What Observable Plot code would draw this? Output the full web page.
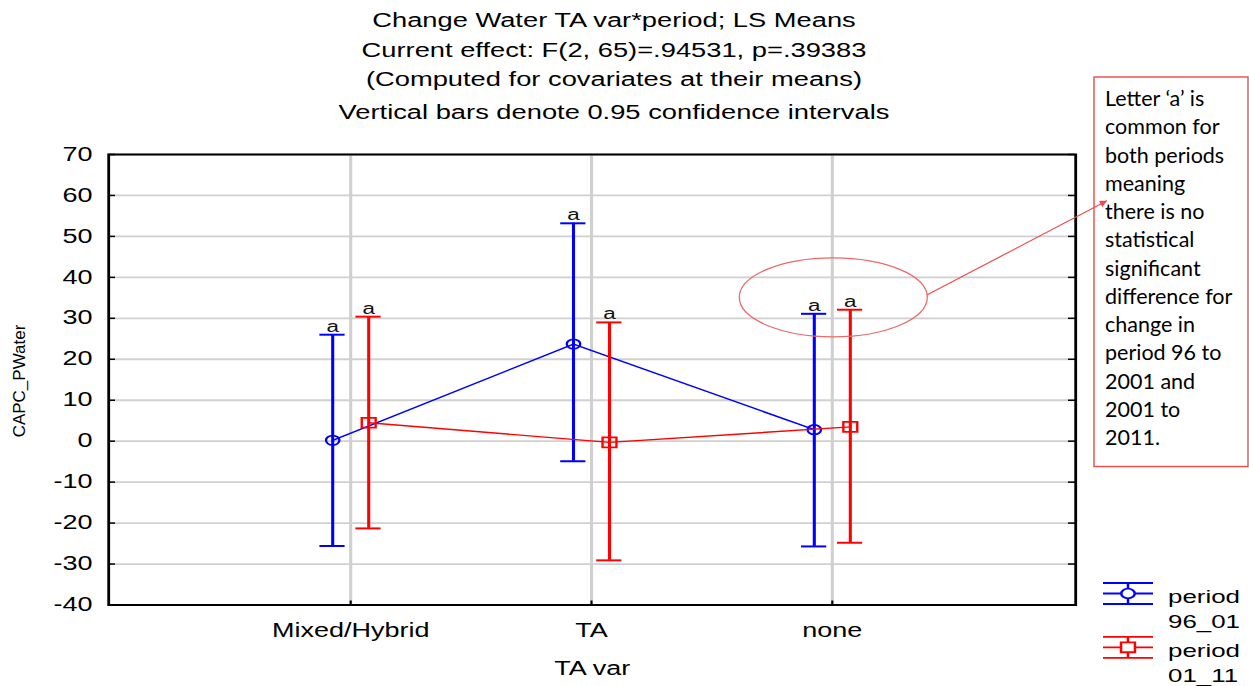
<!DOCTYPE html>
<html>
<head>
<meta charset="utf-8">
<script src="https://cdn.jsdelivr.net/npm/d3@7"></script>
<script src="https://cdn.jsdelivr.net/npm/@observablehq/plot@0.6"></script>
<style>
  html, body { margin: 0; padding: 0; background: #fff; }
  #chart { position: relative; width: 1249px; height: 686px; overflow: hidden; background: #fff; }
  #chart svg.overlay { position: absolute; left: 0; top: 0; pointer-events: none; }
</style>
</head>
<body>
<div id="chart"></div>
<script>
// ---- data: LS means and 0.95 confidence limits of CAPC_PWater by TA var ----
const categories = ["Mixed/Hybrid", "TA", "none"];
const yTicks = [-40, -30, -20, -10, 0, 10, 20, 30, 40, 50, 60, 70];

// period 96_01
const mean96 = [0.2, 23.7, 2.8];
const lower96 = [-25.6, -4.9, -25.7];
const upper96 = [26.0, 53.2, 31.1];
const letters96 = ["a", "a", "a"];

// period 01_11
const mean01 = [4.5, -0.3, 3.5];
const lower01 = [-21.3, -29.1, -24.8];
const upper01 = [30.4, 29.0, 32.1];
const letters01 = ["a", "a", "a"];

const titleLines = [
  "Change Water TA var*period; LS Means",
  "Current effect: F(2, 65)=.94531, p=.39383",
  "(Computed for covariates at their means)",
  "Vertical bars denote 0.95 confidence intervals"
];
const legendItems = [
  {name: "period", code: "96_01", color: "#0000ff", symbol: "circle"},
  {name: "period", code: "01_11", color: "#ff0000", symbol: "square"}
];
const noteLines = [
  "Letter \u2018a\u2019 is", "common for", "both periods", "meaning", "there is no",
  "statistical", "significant", "difference for", "change in", "period 96 to",
  "2001 and", "2001 to", "2011."
];
// the group highlighted by the callout
const highlight = {cat: "none", value: 35.0};

// ---- layout ----
const W = 1249, H = 686;
const SX = 1.4;                 // the chart is drawn in a narrower space, then stretched horizontally
const w0 = W / SX;
const frameLeft = 108, frameRight = 1075, frameTop = 154, frameBottom = 604.5;
const mL = frameLeft / SX, mR = (W - frameRight) / SX;
const plotW = w0 - mL - mR;
const step = plotW / 4;
const capW = 26 / SX;
const padIn = 1 - capW / step;
const padOut = (1 + padIn) / 2;
const off = 18 / SX;            // side-by-side offset of the two periods
const font = "'Liberation Sans', Arial, sans-serif";
const circleR = 4.8, squareR = 5.6;

const rows = (means, lo, hi, letters) =>
  categories.map((cat, i) => ({cat, mean: means[i], lo: lo[i], hi: hi[i], letter: letters[i]}));
const rows96 = rows(mean96, lower96, upper96, letters96);
const rows01 = rows(mean01, lower01, upper01, letters01);

function series(data, color, symbol, r, dx) {
  return [
    Plot.line(data, {x: "cat", y: "mean", stroke: color, strokeWidth: 1.4, dx}),
    Plot.ruleX(data, {x: "cat", y1: "lo", y2: "hi", stroke: color, strokeWidth: 2.2, dx}),
    Plot.tickY(data, {x: "cat", y: "hi", stroke: color, strokeWidth: 2, dx}),
    Plot.tickY(data, {x: "cat", y: "lo", stroke: color, strokeWidth: 2, dx}),
    Plot.dot(data, {x: "cat", y: "mean", symbol, r, stroke: color, strokeWidth: 1.7, fill: "none", dx}),
    Plot.text(data, {x: "cat", y: "hi", text: "letter", dx, dy: -3, lineAnchor: "bottom", fontSize: 16, fill: "#111"})
  ];
}

const chart = Plot.plot({
  width: w0,
  height: H,
  marginLeft: mL,
  marginRight: mR,
  marginTop: frameTop,
  marginBottom: H - frameBottom,
  style: {fontFamily: font, fontSize: "19px", background: "white", overflow: "visible"},
  x: {type: "band", domain: categories, paddingInner: padIn, paddingOuter: padOut},
  y: {domain: [-40, 70]},
  marks: [
    Plot.gridY(yTicks, {stroke: "#d0d0d0", strokeOpacity: 1, strokeWidth: 1.8}),
    Plot.gridX({stroke: "#d0d0d0", strokeOpacity: 1, strokeWidth: 2.2}),
    Plot.tickY(yTicks, {y: d => d, stroke: "black", strokeWidth: 1.5, insetRight: plotW - 5}),
    Plot.tickY(yTicks, {y: d => d, stroke: "black", strokeWidth: 1.5, insetLeft: plotW - 5}),
    Plot.tickX(categories, {x: d => d, stroke: "black", strokeWidth: 1.5, insetTop: (frameBottom - frameTop) - 4}),
    Plot.axisY(yTicks, {tickSize: 0, tickPadding: 11.6, fontSize: 19.3, label: null, tickFormat: d => String(d)}),
    Plot.axisX({tickSize: 0, tickPadding: 18, fontSize: 19.3, label: "TA var", labelAnchor: "center", labelOffset: 69.5}),
    ...series(rows96, "#0000ff", "circle", circleR, -off),
    ...series(rows01, "#ff0000", "square", squareR, off),
    Plot.frame({stroke: "black", strokeWidth: 2})
  ]
});

const root = document.getElementById("chart");
root.appendChild(chart);

// stretch the drawing horizontally to the full page width
const svg = d3.select(chart)
  .attr("width", W)
  .attr("preserveAspectRatio", "none")
  .style("width", W + "px")
  .style("height", H + "px")
  .style("max-width", "none");

// title block
const titleBase = [27, 57, 86.5, 119.5];
svg.append("g")
  .attr("font-family", font)
  .attr("font-size", 19.5)
  .attr("text-anchor", "middle")
  .attr("fill", "black")
  .selectAll("text")
  .data(titleLines)
  .join("text")
  .attr("x", 614 / SX)
  .attr("y", (d, i) => titleBase[i])
  .text(d => d);

// legend (bottom right)
const legend = svg.append("g")
  .attr("font-family", font)
  .attr("font-size", 18.5)
  .attr("text-anchor", "start")
  .attr("fill", "black");
const lgX1 = 1103 / SX, lgX2 = 1153 / SX, lgC = 1128 / SX, lgText = 1168 / SX;
const lgMid = [593.5, 647.3];
legendItems.forEach((item, i) => {
  const g = legend.append("g").attr("stroke", item.color).attr("stroke-width", 1.8).attr("fill", "none");
  const m = lgMid[i];
  [m - 10.5, m, m + 10.5].forEach(yy =>
    g.append("line").attr("x1", lgX1).attr("x2", lgX2).attr("y1", yy).attr("y2", yy));
  g.append("line").attr("x1", lgC).attr("x2", lgC).attr("y1", m - 10.5).attr("y2", m + 10.5);
  const sym = item.symbol === "circle" ? d3.symbolCircle : d3.symbolSquare;
  const size = item.symbol === "circle" ? Math.PI * circleR * circleR : Math.PI * squareR * squareR;
  g.append("path").attr("d", d3.symbol(sym, size)()).attr("transform", `translate(${lgC},${m})`).attr("fill", "white");
  legend.append("text").attr("x", lgText).attr("y", m + 10).text(item.name);
  legend.append("text").attr("x", lgText).attr("y", m + 35).text(item.code);
});

// overlay: axis title and callout, drawn at page scale
const xs = chart.scale("x"), ys = chart.scale("y");
const xCenter = c => (xs.apply(c) + xs.bandwidth / 2) * SX;
const ov = d3.select(root).append("svg")
  .attr("class", "overlay")
  .attr("width", W).attr("height", H)
  .attr("viewBox", `0 0 ${W} ${H}`);

ov.append("text")
  .attr("transform", `translate(25,381) rotate(-90)`)
  .attr("text-anchor", "middle")
  .attr("font-family", font)
  .attr("font-size", 17)
  .attr("fill", "black")
  .text("CAPC_PWater");

const noteRed = "#ee4b4b";
ov.append("defs").append("marker")
  .attr("id", "arrowhead")
  .attr("viewBox", "0 0 10 10").attr("refX", 10).attr("refY", 5)
  .attr("markerWidth", 6).attr("markerHeight", 6)
  .attr("orient", "auto")
  .append("path").attr("d", "M0,0L10,5L0,10z").attr("fill", noteRed);

const ex = xCenter(highlight.cat) + 1.7, ey = ys.apply(highlight.value);
const rx = 94, ry = 39.5;
ov.append("ellipse")
  .attr("cx", ex).attr("cy", ey).attr("rx", rx).attr("ry", ry)
  .attr("fill", "none").attr("stroke", "#e86a6a").attr("stroke-width", 1.3);

const boxX = 1094, boxY = 77, boxW = 154, boxH = 389.5;
ov.append("line")
  .attr("x1", ex + rx).attr("y1", ey - 2.5)
  .attr("x2", boxX + 13).attr("y2", 200.7)
  .attr("stroke", noteRed).attr("stroke-width", 1.2)
  .attr("marker-end", "url(#arrowhead)");

ov.append("rect")
  .attr("x", boxX).attr("y", boxY).attr("width", boxW).attr("height", boxH)
  .attr("fill", "none").attr("stroke", noteRed).attr("stroke-width", 1.4);

ov.append("g")
  .attr("font-family", "Lato, 'Open Sans', sans-serif")
  .attr("font-size", 21.5)
  .attr("fill", "black")
  .selectAll("text")
  .data(noteLines)
  .join("text")
  .attr("x", 1105)
  .attr("y", (d, i) => 106 + i * 28.25)
  .text(d => d);
</script>
</body>
</html>
